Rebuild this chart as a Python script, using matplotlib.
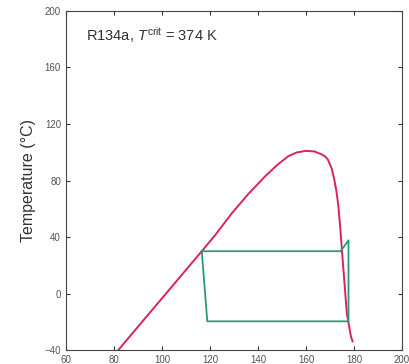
import numpy as np
import matplotlib
matplotlib.use("Agg")
import matplotlib.pyplot as plt

plt.rcParams['font.family'] = ['Liberation Sans', 'DejaVu Sans']
plt.rcParams['mathtext.fontset'] = 'custom'
plt.rcParams['mathtext.it'] = 'Liberation Sans:italic'
plt.rcParams['mathtext.rm'] = 'Liberation Sans'

# saturation dome
dome_x = [81.8, 116.6, 122, 129.2, 136, 143, 148, 152.6, 156, 160, 163.5, 166.5,
          168, 169.1, 170.7, 171.8, 172.8, 173.5, 174.3, 175, 176, 177, 178.7, 179.4]
dome_t = [-40, 30, 41, 57, 70.5, 83, 91, 97.2, 99.8, 101, 100.6, 98.5,
          97, 94.9, 88.5, 80.7, 71, 61.8, 46, 30, 8, -13.7, -30.2, -33.8]

# refrigeration cycle
cycle_x = [116.6, 174.4, 177.7, 177.7, 118.9, 116.6]
cycle_t = [30, 30, 37.7, -19.6, -19.6, 30]

fig = plt.figure(figsize=(4.09, 3.64), dpi=100)
ax = fig.add_axes([0.161, 0.038, 0.822, 0.932])

ax.plot(dome_x, dome_t, color='#d9245a', lw=1.4)
ax.plot(cycle_x, cycle_t, color='#2a9a70', lw=1.3)

ax.set_xlim(60, 200)
ax.set_ylim(-40, 200)
ax.set_xticks(np.arange(60, 201, 20))
ax.set_yticks(np.arange(-40, 201, 40))
ax.tick_params(direction='in', top=True, right=True, labelsize=7, length=3,
               colors='#333333', labelcolor='#555555')
for s in ax.spines.values():
    s.set_color('#444444')
    s.set_linewidth(0.8)

ax.set_ylabel('Temperature (°C)', fontsize=11.5, color='#333333', labelpad=6)
ax.text(0.06, 0.93, r'R134a, $T^{\mathrm{crit}}$ = 374 K', transform=ax.transAxes,
        fontsize=10.5, color='#333333', va='center')

fig.savefig('out.png', dpi=100)
